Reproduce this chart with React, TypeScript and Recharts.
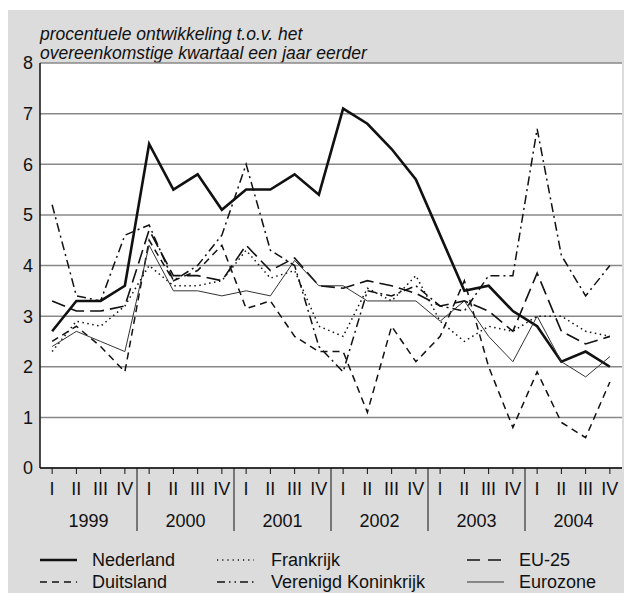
import { CartesianGrid, Line, LineChart, XAxis, YAxis } from "recharts";

const years = ["1999", "2000", "2001", "2002", "2003", "2004"];
const quarters = ["I", "II", "III", "IV"];
const yTicks = [0, 1, 2, 3, 4, 5, 6, 7, 8];

const nederland = [2.7, 3.3, 3.3, 3.6, 6.4, 5.5, 5.8, 5.1, 5.5, 5.5, 5.8, 5.4, 7.1, 6.8, 6.3, 5.7, 4.6, 3.5, 3.6, 3.1, 2.8, 2.1, 2.3, 2.0];
const duitsland = [2.5, 2.8, 2.4, 1.9, 4.5, 3.7, 3.9, 4.4, 3.15, 3.3, 2.6, 2.3, 2.3, 1.1, 2.8, 2.1, 2.6, 3.7, 2.0, 0.8, 1.9, 0.9, 0.6, 1.7];
const frankrijk = [2.3, 2.9, 2.8, 3.2, 4.0, 3.6, 3.6, 3.7, 4.3, 3.75, 3.9, 2.8, 2.6, 3.55, 3.3, 3.8, 2.9, 2.5, 2.8, 2.7, 3.0, 3.0, 2.7, 2.6];
const verenigdKoninkrijk = [5.2, 3.4, 3.3, 4.6, 4.8, 3.7, 4.0, 4.6, 6.0, 4.3, 4.0, 2.4, 1.9, 3.5, 3.4, 3.6, 3.2, 3.1, 3.8, 3.8, 6.7, 4.2, 3.4, 4.0];
const eu25 = [3.3, 3.1, 3.1, 3.2, 4.7, 3.8, 3.8, 3.7, 4.4, 3.9, 4.15, 3.6, 3.55, 3.7, 3.6, 3.45, 3.2, 3.3, 3.1, 2.7, 3.85, 2.7, 2.45, 2.6];
const eurozone = [2.4, 2.7, 2.5, 2.3, 4.4, 3.5, 3.5, 3.4, 3.5, 3.4, 4.1, 3.6, 3.6, 3.3, 3.3, 3.3, 2.9, 3.3, 2.6, 2.1, 3.0, 2.1, 1.8, 2.2];

const series = [
  { key: "nederland", name: "Nederland", values: nederland, width: 2.6, dash: undefined, color: "#111" },
  { key: "duitsland", name: "Duitsland", values: duitsland, width: 1.5, dash: "7 5", color: "#111" },
  { key: "frankrijk", name: "Frankrijk", values: frankrijk, width: 1.5, dash: "1.5 3.5", color: "#111" },
  { key: "vk", name: "Verenigd Koninkrijk", values: verenigdKoninkrijk, width: 1.5, dash: "9 4 2 4", color: "#111" },
  { key: "eu25", name: "EU-25", values: eu25, width: 1.6, dash: "14 6", color: "#111" },
  { key: "eurozone", name: "Eurozone", values: eurozone, width: 1, dash: undefined, color: "#333" },
];

const data = years.flatMap((y, yi) =>
  quarters.map((q, qi) => {
    const i = yi * 4 + qi;
    const row: Record<string, string | number> = { period: `${y} ${q}` };
    series.forEach((s) => (row[s.key] = s.values[i]));
    return row;
  })
);

const font = '"Liberation Sans", Arial, Helvetica, sans-serif';

function QuarterTick(props: any) {
  const { x, y, payload, index } = props;
  const [year, q] = String(payload.value).split(" ");
  const half = payload.offset ?? 12.125;
  const last = index === data.length - 1;
  return (
    <g>
      <text x={x} y={y + 21} textAnchor="middle" fontSize={18} fill="#111" fontFamily={font}>
        {q}
      </text>
      {q === "II" && (
        <text x={x + half} y={y + 53} textAnchor="middle" fontSize={18} fill="#111" fontFamily={font}>
          {year}
        </text>
      )}
      {q === "IV" && !last && <line x1={x + half} x2={x + half} y1={y - 6} y2={y + 57} stroke="#111" strokeWidth={1} />}
    </g>
  );
}

// legend sample dashes are a little shorter than in the plot
const legendDash: Record<string, string | undefined> = {
  duitsland: "7 5",
  frankrijk: "1.2 4",
  vk: "8 4 1.5 4 1.5 4",
  eu25: "13 8",
};

function LegendItem({ k, name, width, color, gap }: { k: string; name: string; width: number; color: string; gap: number }) {
  return (
    <div style={{ display: "flex", alignItems: "center", height: 22 }}>
      <svg width={37} height={10} style={{ marginRight: gap }}>
        <line x1={0} x2={37} y1={5} y2={5} stroke={color} strokeWidth={width} strokeDasharray={legendDash[k]} />
      </svg>
      <span>{name}</span>
    </div>
  );
}

export default function App() {
  const col = (keys: string[], left: number, gap: number) => (
    <div style={{ position: "absolute", left, top: 539 }}>
      {keys.map((k) => {
        const s = series.find((x) => x.key === k)!;
        return <LegendItem key={k} k={k} name={s.name} width={s.width} color={s.color} gap={gap} />;
      })}
    </div>
  );
  return (
    <div style={{ marginTop: 2, width: 624, height: 583, background: "#dcdcdc", position: "relative", fontFamily: font, fontSize: 18, color: "#111" }}>
      <div style={{ position: "absolute", left: 32, top: 15, fontStyle: "italic", fontSize: 17.5, lineHeight: "19px" }}>
        procentuele ontwikkeling t.o.v. het
        <br />
        overeenkomstige kwartaal een jaar eerder
      </div>
      <LineChart width={624} height={583} data={data} margin={{ top: 53, right: 10, left: 2, bottom: 45 }}>
        <CartesianGrid vertical={false} stroke="#888" strokeWidth={1.5} fill="#fff" />
        <XAxis
          dataKey="period"
          scale="band"
          height={80}
          interval={0}
          tickSize={6}
          tickMargin={0}
          tickLine={{ stroke: "#111" }}
          axisLine={{ stroke: "#111", strokeWidth: 1.5 }}
          tick={<QuarterTick />}
        />
        <XAxis xAxisId="top" orientation="top" dataKey="period" scale="band" height={0} tick={false} tickLine={false} axisLine={{ stroke: "#111", strokeWidth: 1.5 }} />
        <YAxis
          domain={[0, 8]}
          ticks={yTicks}
          width={30}
          tickSize={0}
          tickMargin={7}
          axisLine={{ stroke: "#111", strokeWidth: 1.5 }}
          tick={{ fontSize: 18, fill: "#111", fontFamily: font }}
        />
        <YAxis yAxisId="right" orientation="right" domain={[0, 8]} width={0} tick={false} tickLine={false} axisLine={{ stroke: "#111", strokeWidth: 1.5 }} />
        {series.map((s) => (
          <Line
            key={s.key}
            dataKey={s.key}
            type="linear"
            stroke={s.color}
            strokeWidth={s.width}
            strokeDasharray={s.dash}
            dot={false}
            activeDot={false}
            isAnimationActive={false}
          />
        ))}
      </LineChart>
      {col(["nederland", "duitsland"], 32, 15)}
      {col(["frankrijk", "vk"], 209, 17)}
      {col(["eu25", "eurozone"], 459, 15)}
    </div>
  );
}
